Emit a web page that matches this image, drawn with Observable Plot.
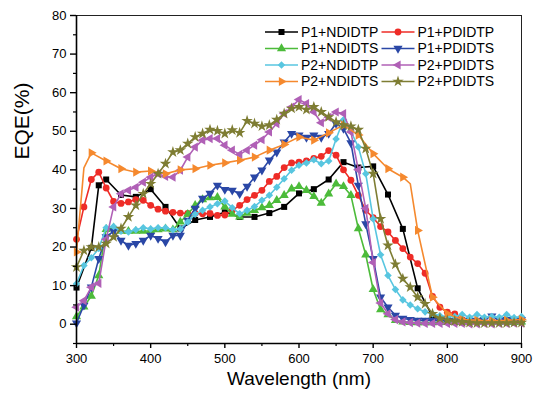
<!DOCTYPE html>
<html>
<head>
<meta charset="utf-8">
<script src="https://cdn.jsdelivr.net/npm/d3@7"></script>
<script src="https://cdn.jsdelivr.net/npm/@observablehq/plot@0.6"></script>
<style>
  html, body { margin: 0; padding: 0; background: #fff; }
  #chart { width: 533px; height: 396px; position: relative; }
</style>
</head>
<body>
<div id="chart"></div>
<script>
// ---- data ----
const wl10 = [300,310,320,330,340,350,360,370,380,390,400,410,420,430,440,450,460,470,480,490,500,510,520,530,540,550,560,570,580,590,600,610,620,630,640,650,660,670,680,690,700,710,720,730,740,750,760,770,780,790,800,810,820,830,840,850,860,870,880,890,900];

const wlP1NDIDTP = [300,320,330,340,360,380,400,420,440,460,480,500,520,540,560,580,600,620,640,660,680,700,720,740,760,780,800,820,840,860,880,900];
const P1_NDIDTP = [9.5,19.8,36,37.5,33.5,33,35,30.4,24.8,27,27.8,29,27.8,27.8,28.8,30.4,33.9,35,37.5,42,40.6,40.9,33.6,24.7,9.3,2,1.2,0.8,0.6,0.5,0.6,0.7];

const P1_PDIDTP = [22,30.4,37.5,39.4,35.3,31.8,31.3,31.7,32.3,32.1,30.8,29.8,29.3,29,28.8,28.7,28.7,28.6,28.7,28.2,28.3,29.5,30.8,32.3,33.4,34.7,37,38.3,40.6,41.8,42,42.3,43,43.5,45,43.8,40,37.3,33.4,29.5,27.6,25.3,23.9,21.7,19.6,17.4,15.7,13.2,7.2,4.4,3.1,2.7,1.2,0.8,0.6,0.5,0.5,0.6,0.5,0.6,0.7];

const P1_NDIDTS = [2,4.5,7.3,12.6,24.6,25,24.1,24.1,24.1,24.1,24.2,24.5,24.7,24.5,26.5,28.5,30.8,32.3,32.8,32.9,30.4,28.5,27.8,28.8,29.5,30.2,30.8,32.1,33.4,35.1,35.7,34.7,33.1,31.4,33.8,36.4,35.7,33.4,24.8,18,9,3.8,2.5,1,0.6,0.5,0.4,0.4,0.4,0.5,0.5,0.5,0.6,0.5,0.6,0.5,0.6,0.5,0.6,0.5,0.6];

const P1_PDIDTS = [0.3,4.9,9.6,17,22.6,24.1,21.7,20.4,20.9,21.7,23,22.2,21.3,23,23,26.9,30,32.6,33.9,36,34.9,34.7,33.8,35.7,38.1,39.9,42.5,44.6,47.2,49.4,49,48.4,49,48.4,49.4,52,50.7,47,36,26,17,7,4.4,2.3,1.5,1.2,1,1,1,0.9,1,0.9,1,0.9,1,1.2,2.1,1,1.2,1,1.1];

const P2_NDIDTP = [10.5,15.2,17.2,19.6,25,25.3,24.1,23.9,24.5,25,24.7,25,25,24.5,24.7,26.5,28.5,29.5,30.4,31.2,31.9,30.2,28.6,29.5,30.5,32.1,33.4,35.5,37.7,39.9,41.2,41.8,42.6,41.6,42.3,48,53,50,45.9,39,27.3,18,12.6,9,6.3,5,4,3.2,2.7,2.2,2,2,2.5,1.8,2.5,1.8,2,1.8,2.5,1.7,2];

const P2_PDIDTS = [4.4,6.1,9.6,10.6,22,30.4,33.8,34.7,35.5,36.8,38.1,39,38.3,38.1,39.9,43.3,45.9,47.7,48.1,48.1,46.4,45.1,44,45.1,46.4,47.8,49.8,52,54.6,56.3,58.2,57.2,55,52.2,53.6,55,54.6,49.8,40,30,16,5.5,2.7,1.2,0.6,0.4,0.3,0.2,0.2,0.2,0.2,0.2,0.2,0.1,0.1,0.2,0.1,0.2,0.2,0.3,0.3];

const wlP2NDIDTS = [300,310,320,340,360,380,400,420,440,460,480,500,520,540,560,580,600,620,640,660,680,700,720,740,750,760,780,800,820,840,860,880,900];
const P2_NDIDTS = [18.7,40.5,44.4,42.3,40.3,39.4,39.7,39,40,40.3,41.2,41.8,42.5,43.3,45.1,46.6,48.5,47.7,49.6,51.6,49,44.2,40.3,38.1,36.4,24.3,7,2.7,1.2,1,0.9,1,1.2];

const P2_PDIDTS_b = [14.8,19.1,20,20,20.9,22.6,24.8,27.8,30.8,33.8,36.4,39,41.6,44.6,45.1,46.8,48.5,49.4,50.4,50.1,49.4,50.3,49.6,52.7,52,51.3,51.6,53,54.6,55.9,56.3,55.6,56.3,55,53.7,52.4,51.6,51.3,50.4,45.5,39,27.3,20.4,15.5,11.8,9.6,7,5.3,2.7,1.5,1,0.8,0.6,0.4,0.3,0.3,0.3,0.3,0.3,0.4,0.4];

const xTicks = [300,400,500,600,700,800,900];
const xMinor = [350,450,550,650,750,850];
const yTicks = [0,10,20,30,40,50,60,70,80];
const yMinor = [-5,5,15,25,35,45,55,65,75];

const seriesNames = ["P1+NDIDTP","P1+PDIDTP","P1+NDIDTS","P1+PDIDTS","P2+NDIDTP","P2+PDIDTS","P2+NDIDTS","P2+PDIDTS"];
const seriesColors = ["#000000","#ee2c27","#4cbb3a","#2a47a6","#58c6e0","#b060b6","#f5892e","#7e7d33"];
const seriesSymbols = ["square","circle","triangle","triangle","diamond2","triangle","triangle","star"];
const seriesRotate = [0,0,0,180,0,-90,90,0];
const seriesX = [wlP1NDIDTP, wl10, wl10, wl10, wl10, wl10, wlP2NDIDTS, wl10];
const seriesY = [P1_NDIDTP, P1_PDIDTP, P1_NDIDTS, P1_PDIDTS, P2_NDIDTP, P2_PDIDTS, P2_NDIDTS, P2_PDIDTS_b];

// ---- build ----
const font = "'Liberation Sans', Arial, Helvetica, sans-serif";
const marks = [];
seriesNames.forEach((name, i) => {
  const rows = seriesX[i].map((x, j) => ({wl: x, v: seriesY[i][j]}));
  marks.push(Plot.line(rows, {x: "wl", y: "v", stroke: seriesColors[i], strokeWidth: 1.6}));
  const dotRows = i === 6 ? rows.filter(d => d.wl % 20 === 0) : rows;
  marks.push(Plot.dot(dotRows, {x: "wl", y: "v", fill: seriesColors[i], stroke: "none",
    symbol: seriesSymbols[i], r: seriesSymbols[i] === "star" ? 3.6 : 3.4, rotate: seriesRotate[i]}));
});

const chart = Plot.plot({
  width: 533,
  height: 396,
  marginLeft: 76,
  marginRight: 12,
  marginTop: 15,
  marginBottom: 53,
  style: {fontFamily: font, fontSize: "13px", background: "#fff", color: "#000"},
  x: {domain: [300, 900]},
  y: {domain: [-5, 80]},
  marks: [
    Plot.frame({stroke: "#222", strokeWidth: 1}),
    ...marks,
    Plot.axisX(xTicks, {tickSize: 5, tickPadding: 5, strokeWidth: 1.4, label: null, fontSize: 13}),
    Plot.axisX(xMinor, {tickSize: 3, tickFormat: () => "", strokeWidth: 1.2, label: null}),
    Plot.axisY(yTicks, {tickSize: 6, tickPadding: 4, strokeWidth: 1.4, label: null, fontSize: 13}),
    Plot.axisY(yMinor, {tickSize: 3, tickFormat: () => "", strokeWidth: 1.2, label: null}),
    Plot.ruleX([300], {stroke: "#000", strokeWidth: 1.6}),
    Plot.ruleY([-5], {stroke: "#000", strokeWidth: 1.6}),
    Plot.text(["Wavelength (nm)"], {frameAnchor: "bottom", dy: 41, fontSize: 19, fill: "#000"}),
    Plot.text(["EQE(%)"], {frameAnchor: "left", dx: -54, dy: -20, rotate: -90, fontSize: 21, fill: "#000"})
  ]
});

document.getElementById("chart").appendChild(chart);

// ---- legend (inside plot, top right) ----
const svg = d3.select(chart.tagName.toLowerCase() === "svg" ? chart : chart.querySelector("svg"));
const symMap = {square: d3.symbolSquare, circle: d3.symbolCircle, triangle: d3.symbolTriangle, diamond2: d3.symbolDiamond2, star: d3.symbolStar};
const lg = svg.append("g").attr("font-family", font).attr("font-size", 14).attr("text-anchor", "start");
const colX = [265, 381.5];
const rowY0 = 32, rowDy = 16.5;
seriesNames.forEach((name, i) => {
  const col = i % 2, row = Math.floor(i / 2);
  const x0 = colX[col], y = rowY0 + row * rowDy;
  lg.append("line").attr("x1", x0).attr("x2", x0 + 33).attr("y1", y).attr("y2", y)
    .attr("stroke", seriesColors[i]).attr("stroke-width", 1.6);
  const r = seriesSymbols[i] === "star" ? 3.6 : 3.4;
  lg.append("path")
    .attr("d", d3.symbol(symMap[seriesSymbols[i]], Math.PI * r * r)())
    .attr("transform", `translate(${x0 + 16.5},${y}) rotate(${seriesRotate[i]})`)
    .attr("fill", seriesColors[i]);
  lg.append("text").attr("x", x0 + 36).attr("y", y).attr("dy", "0.35em")
    .attr("text-anchor", "start").attr("fill", "#000").text(name);
});
</script>
</body>
</html>
